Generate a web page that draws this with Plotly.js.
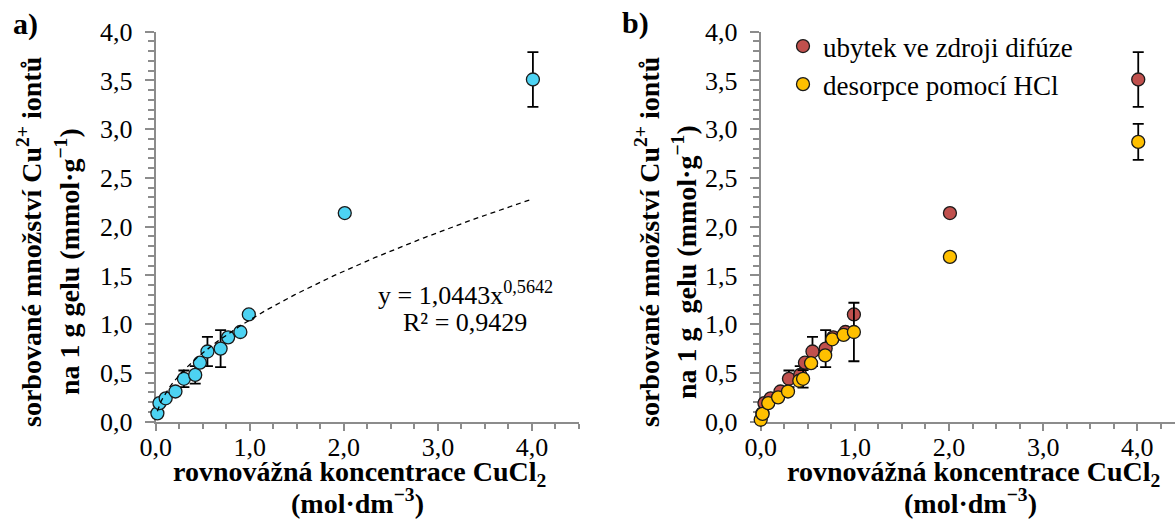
<!DOCTYPE html>
<html>
<head>
<meta charset="utf-8">
<script src="https://cdn.plot.ly/plotly-3.0.1.min.js"></script>
<style>
  html, body { margin: 0; padding: 0; background: #fff; }
  #chart { width: 1175px; height: 532px; }
</style>
</head>
<body>
<div id="chart"></div>
<script>
// ---------- data ----------
// equilibrium CuCl2 concentration (mol/dm3) and sorbed Cu2+ (mmol/g), "ubytek ve zdroji difúze"
const concDif = [0.018, 0.04, 0.106, 0.21, 0.30, 0.42, 0.47, 0.55, 0.69, 0.77, 0.90, 0.99, 2.01, 4.01];
const sorbDif = [0.086, 0.19, 0.24, 0.31, 0.44, 0.48, 0.605, 0.72, 0.75, 0.865, 0.92, 1.10, 2.14, 3.51];
const errDif  = [0, 0, 0, 0, 0.085, 0.09, 0, 0.15, 0.19, 0, 0, 0, 0, 0.28];

// "desorpce pomocí HCl"
const concHCl = [0.0, 0.02, 0.08, 0.185, 0.29, 0.41, 0.45, 0.535, 0.685, 0.76, 0.88, 0.99, 2.01, 4.01];
const sorbHCl = [0.02, 0.08, 0.19, 0.25, 0.31, 0.42, 0.44, 0.60, 0.68, 0.845, 0.89, 0.92, 1.69, 2.87];
const errHCl  = [0, 0, 0, 0, 0, 0, 0.09, 0, 0, 0, 0, 0.30, 0, 0.185];

// power trendline y = a * x^b (as shown in the chart)
const fitA = 1.0443;
const fitB = 0.5642;
const fitLabel = 'y = 1,0443x<sup>0,5642</sup>';
const r2Label = 'R² = 0,9429';

const seriesNames = ['ubytek ve zdroji difúze', 'desorpce pomocí HCl'];
const xTitle1 = '<b>rovnovážná koncentrace CuCl<sub>2</sub></b>';
const xTitle2 = '<b>(mol·dm<sup>−3</sup>)</b>';
const yTitle1 = '<b>sorbované množství Cu<sup>2+</sup> iontů</b>';
const yTitle2a = '<b>na 1 g gelu (mmol·g<sup>−1</sup>)</b>';
const yTitle2b = '<b>na 1 g\u00a0\u00a0gelu (mmol·g<sup>−1</sup>)</b>';

// ---------- styling ----------
const W = 1175, H = 532;
const FONT = 'Liberation Serif, Times New Roman, serif';
const GRAY = '#8c8c8c';
const FS = 26;
const px = v => v / W;
const py = v => 1 - v / H;

// trendline samples along the fitted function
const nFit = 200;
const x0 = Math.min(...concDif), x1 = Math.max(...concDif);
const fitX = [], fitY = [];
for (let i = 0; i <= nFit; i++) {
  const x = x0 + (x1 - x0) * i / nFit;
  fitX.push(x); fitY.push(fitA * Math.pow(x, fitB));
}

const markerLine = { color: '#1a1a1a', width: 1.3 };
const errStyle = arr => ({ type: 'data', array: arr, visible: true, color: '#000', thickness: 1.8, width: 5.5 });

const traces = [
  { x: concDif, y: sorbDif, xaxis: 'x', yaxis: 'y', type: 'scatter', mode: 'markers', cliponaxis: false,
    marker: { size: 13, color: '#4dd3f3', line: markerLine }, error_y: errStyle(errDif), showlegend: false },
  { x: fitX, y: fitY, xaxis: 'x', yaxis: 'y', type: 'scatter', mode: 'lines', cliponaxis: false,
    line: { color: '#000', width: 1.3, dash: '5px,4px' }, showlegend: false, hoverinfo: 'skip' },
  { x: concDif, y: sorbDif, xaxis: 'x2', yaxis: 'y2', type: 'scatter', mode: 'markers', cliponaxis: false, name: seriesNames[0],
    legendgroup: 'g1', marker: { size: 13, color: '#c0504d', line: markerLine }, error_y: errStyle(errDif) },
  { x: concHCl, y: sorbHCl, xaxis: 'x2', yaxis: 'y2', type: 'scatter', mode: 'markers', cliponaxis: false, name: seriesNames[1],
    legendgroup: 'g2', marker: { size: 13, color: '#ffc000', line: markerLine }, error_y: errStyle(errHCl) }
];

const tickFont = { family: FONT, size: FS, color: '#000' };
function xAxis(domain, rmax, anchor) {
  return { domain, range: [0, rmax], anchor, tick0: 0, dtick: 1, tickformat: '.1f',
    ticks: 'outside', ticklen: 7, tickwidth: 2, tickcolor: GRAY,
    minor: { dtick: 0.25, ticks: 'outside', ticklen: 5, tickwidth: 2, tickcolor: GRAY },
    showline: true, linecolor: GRAY, linewidth: 2, showgrid: false, zeroline: false,
    tickfont: tickFont, layer: 'below traces', fixedrange: true, ticklabelstandoff: -6 };
}
function yAxis(domain, anchor) {
  return { domain, range: [0, 4], anchor, tick0: 0, dtick: 0.5, tickformat: '.1f',
    ticks: 'outside', ticklen: 9, tickwidth: 2, tickcolor: GRAY,
    minor: { dtick: 0.1, ticks: 'outside', ticklen: 6, tickwidth: 2, tickcolor: GRAY },
    showline: true, linecolor: GRAY, linewidth: 2, showgrid: false, zeroline: false,
    tickfont: tickFont, layer: 'below traces', fixedrange: true, ticklabelstandoff: 7 };
}

const yDom = [py(421.7), py(31.7)];
const ann = (text, x, y, extra) => Object.assign({ text, xref: 'paper', yref: 'paper', x: px(x), y: py(y),
  xanchor: 'center', yanchor: 'middle', showarrow: false, font: { family: FONT, size: FS, color: '#000' } }, extra || {});
const bigFont = { family: FONT, size: 30, color: '#000' };
const titleFont = { family: FONT, size: 28, color: '#000' };

const layout = {
  width: W, height: H,
  margin: { l: 0, r: 0, t: 0, b: 0 },
  paper_bgcolor: '#fff', plot_bgcolor: '#fff',
  separators: ', ',
  font: { family: FONT, size: FS, color: '#000' },
  xaxis: xAxis([px(155.7), px(579)], 4.5, 'y'),
  yaxis: yAxis(yDom, 'x'),
  xaxis2: xAxis([px(760.7), 1], (W - 760.7) / 94.15, 'y2'),
  yaxis2: yAxis(yDom, 'x2'),
  showlegend: true,
  legend: { x: px(783), y: py(22), xanchor: 'left', yanchor: 'top', bgcolor: 'rgba(0,0,0,0)',
    font: { family: FONT, size: 27, color: '#000' }, itemwidth: 30, tracegroupgap: 10, traceorder: 'normal' },
  annotations: [
    ann('<b>a)</b>', 25, 24, { font: bigFont }),
    ann('<b>b)</b>', 635, 23, { font: bigFont }),
    ann(xTitle1, 359, 473, { font: titleFont }),
    ann(xTitle2, 357, 501, { font: titleFont }),
    ann(xTitle1, 973, 473, { font: titleFont }),
    ann(xTitle2, 970, 501, { font: titleFont }),
    ann(yTitle1, 29, 242, { textangle: -90, font: titleFont }),
    ann(yTitle2a, 68, 262, { textangle: -90, font: titleFont }),
    ann(yTitle1, 647, 242, { textangle: -90, font: titleFont }),
    ann(yTitle2b, 685, 262, { textangle: -90, font: titleFont }),
    ann(fitLabel, 465, 293),
    ann(r2Label, 465, 322)
  ]
};

Plotly.newPlot('chart', traces, layout, { staticPlot: true, displayModeBar: false });
</script>
</body>
</html>
